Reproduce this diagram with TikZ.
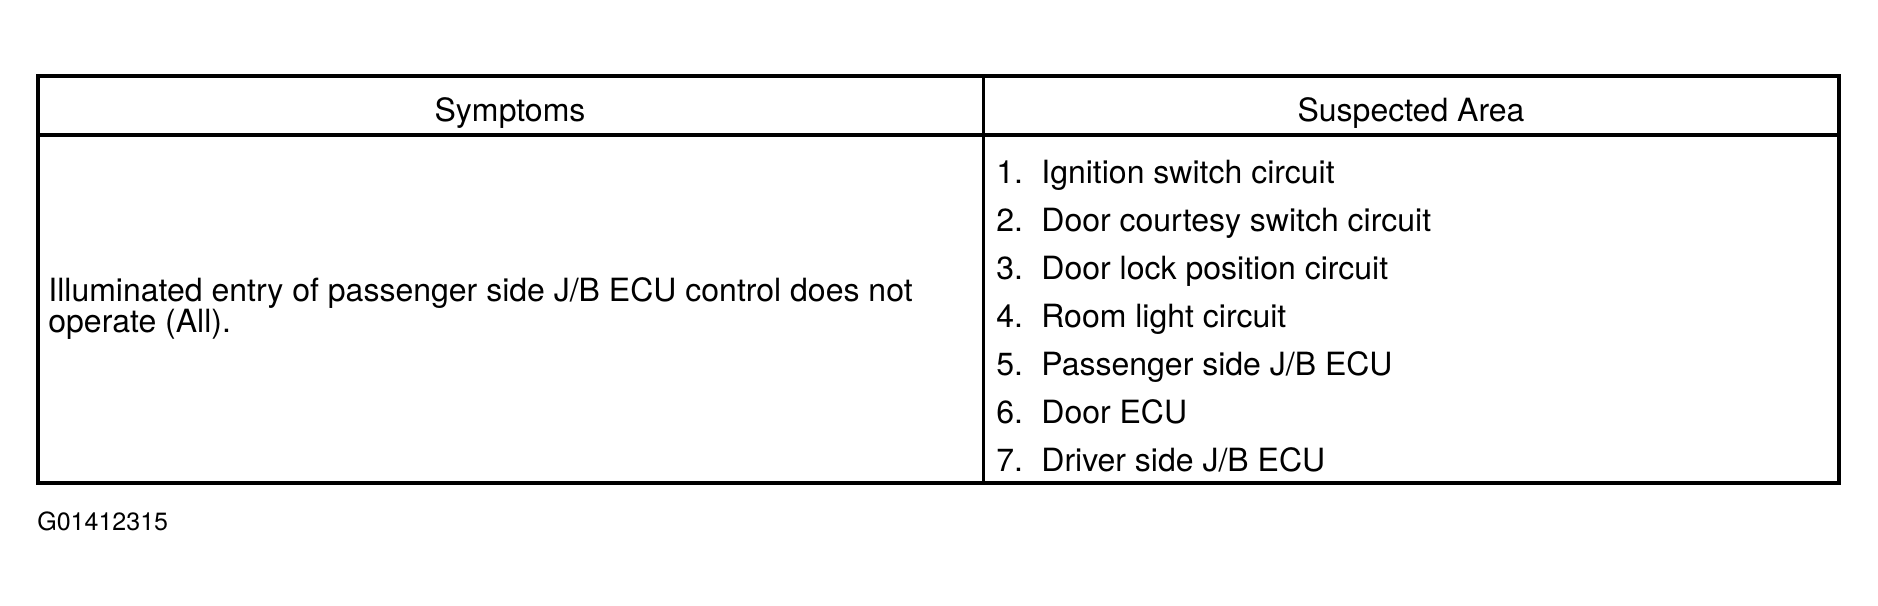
\documentclass[tikz,border=0pt]{standalone}
\usepackage{fontspec}
\setmainfont{TeX Gyre Heros}
\usepackage{tikz}

\begin{document}
\begin{tikzpicture}
	[x=0.5pt, y=-0.5pt, frame/.style={line width=2pt}, rule/.style={line width=1.5pt},
	cell/.style={inner sep=0pt, font=\fontsize{16}{15.5}\selectfont},
	tag/.style={inner sep=0pt, font=\fontsize{12.5}{15}\selectfont}];
	\useasboundingbox (0,0) rectangle (1878,605);
	\draw [frame] (38,76) rectangle (1839,483);
	\draw [frame] (38,135) -- (1839,135);
	\draw [rule] (983,76) -- (983,483);
	\node [cell, anchor=base] (symptoms) at (510,121) {Symptoms};
	\node [cell, anchor=base] (area) at (1411,121) {Suspected Area};
	\node [cell, anchor=west, align=left] (symptom) at (48,309) {Illuminated entry of passenger side J/B ECU control does not\\operate (All).};
	\foreach \i/\txt in {1/{Ignition switch circuit}, 2/{Door courtesy switch circuit}, 3/{Door lock position circuit}, 4/{Room light circuit}, 5/{Passenger side J/B ECU}, 6/{Door ECU}, 7/{Driver side J/B ECU}}
		\node [cell, anchor=base west] (item\i) at (996,{183+48*(\i-1)}) {\makebox[22.5pt][l]{\i.}\txt};
	\node [tag, anchor=base west] (code) at (37,530) {G01412315};
\end{tikzpicture}
\end{document}
